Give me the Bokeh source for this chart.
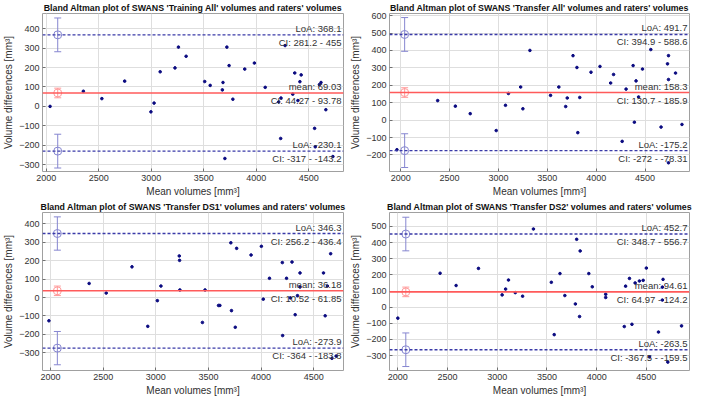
from bokeh.plotting import figure
from bokeh.layouts import gridplot
from bokeh.models import ColumnDataSource, Span, Whisker, FixedTicker, Range1d, TeeHead
from bokeh.core.properties import value
from bokeh.embed import file_html
from bokeh.resources import INLINE

FONT = "Liberation Sans"

titles = [
    "Bland Altman plot of SWANS 'Training All' volumes and raters' volumes",
    "Bland Altman plot of SWANS 'Transfer All' volumes and raters' volumes",
    "Bland Altman plot of SWANS 'Transfer DS1' volumes and raters' volumes",
    "Bland Altman plot of SWANS 'Transfer DS2' volumes and raters' volumes",
]
x_label = "Mean volumes [mm³]"
y_label = "Volume differences [mm³]"

x_ticks = [2000, 2500, 3000, 3500, 4000, 4500]
y_ticks_train_all = [-300, -200, -100, 0, 100, 200, 300, 400]
y_ticks_transfer_all = [-200, -100, 0, 100, 200, 300, 400, 500, 600]
y_ticks_ds1 = [-300, -200, -100, 0, 100, 200, 300, 400]
y_ticks_ds2 = [-300, -200, -100, 0, 100, 200, 300, 400, 500]

# ---- Training All ----
train_all_x = [2037, 2354, 2530, 2747, 2997, 3027, 3085, 3226, 3259, 3332, 3509, 3561,
               3677, 3683, 3720, 3741, 3777, 3701, 3890, 3982, 4085, 4274, 4213, 4235,
               4232, 4347, 4366, 4427, 4415, 4396, 4555, 4601, 4616, 4662, 4561, 4729]
train_all_y = [0, 78, 40, 130, -28, 17, 178, 198, 305, 258, 128, 108,
               85, 123, 305, 210, 37, -268, 192, 223, 98, 313, 23, 43,
               -165, 63, 172, 162, 127, 30, -113, 112, 123, -17, -208, -258]

# ---- Transfer All ----
transfer_all_x = [1961, 2378, 2559, 2711, 2977, 3072, 3102, 3227, 3250, 3322, 3533, 3618,
                  3688, 3704, 3763, 3803, 3812, 3832, 3947, 4039, 4148, 4178, 4266, 4306,
                  4378, 4391, 4408, 4434, 4474, 4559, 4664, 4730, 4740, 4740, 4740, 4812, 4878]
transfer_all_y = [-170, 112, 80, 37, -60, 85, 153, 190, 65, 400, 142, 190,
                  78, 127, 370, 302, -72, 130, 275, 308, 213, 262, -122, 178,
                  313, -12, 225, 133, 293, 405, -40, 323, 370, 233, -245, 270, -25]

# ---- Transfer DS1 ----
ds1_x = [1985, 2367, 2529, 2774, 2924, 3015, 3049, 3223, 3226, 3229, 3443, 3468,
         3596, 3609, 3713, 3719, 3755, 3768, 3905, 4003, 4021, 4080, 4202, 4205,
         4242, 4294, 4278, 4324, 4370, 4370, 4346, 4593, 4609, 4630, 4661, 4673, 4713]
ds1_y = [-126, 76, 24, 166, -156, -17, 62, 225, 201, 41, -135, 41,
         -43, -43, 296, -71, -161, 266, 230, 277, -9, 104, 189, -206,
         104, 192, -2, -93, 133, 57, 10, 133, -99, 62, 237, -329, -317]

# ---- Transfer DS2 ----
ds2_x = [2000, 2425, 2586, 2811, 3049, 3084, 3113, 3181, 3255, 3364, 3544, 3573,
         3631, 3680, 3786, 3799, 3828, 3834, 3921, 3956, 4091, 4091, 4278, 4291,
         4330, 4355, 4387, 4430, 4468, 4500, 4532, 4622, 4661, 4668, 4661, 4716, 4854]
ds2_y = [-68, 210, 134, 240, 76, 112, 168, 90, 68, 484, 154, -170,
         208, 72, 20, 420, -58, 348, 208, 126, 80, 60, -120, 130,
         178, -106, 150, 162, 166, 242, -308, -154, 124, 172, 44, -340, -116]

# ---- statistics (per panel) ----
mean_diff = [69.03, 158.3, 36.18, 94.61]
mean_ci_lo = [44.27, 130.7, 10.52, 64.97]
mean_ci_hi = [93.78, 185.9, 61.85, 124.2]
loa_hi = [368.1, 491.7, 346.3, 452.7]
loa_hi_ci_lo = [281.2, 394.9, 256.2, 348.7]
loa_hi_ci_hi = [455, 588.6, 436.4, 556.7]
loa_lo = [-230.1, -175.2, -273.9, -263.5]
loa_lo_ci_lo = [-317, -272, -364, -367.5]
loa_lo_ci_hi = [-143.2, -78.31, -183.8, -159.5]
errbar_x = [2110, 2040, 2065, 2080]

# axis limits
x_limits = [(1965, 4830), (1885, 4955), (1924, 4783), (1916, 4934)]
y_limits = [(-335, 478), (-295, 612), (-395, 460), (-392, 586)]

xs = [train_all_x, transfer_all_x, ds1_x, ds2_x]
ys = [train_all_y, transfer_all_y, ds1_y, ds2_y]
yticks = [y_ticks_train_all, y_ticks_transfer_all, y_ticks_ds1, y_ticks_ds2]

MEAN_COL = "#ff5a5a"
MEAN_ERR_COL = "#ff9a9a"
LOA_COL = "#3a3aa8"
LOA_ERR_COL = "#8686d0"
PT_COL = "#0a0a80"
TXT_COL = "#333333"


def fmt(v):
    return "%.4g" % v


def make_panel(i, width, height, left_border):
    xr = Range1d(*x_limits[i])
    yr = Range1d(*y_limits[i])
    p = figure(width=width, height=height, x_range=xr, y_range=yr,
               output_backend="svg", toolbar_location=None,
               min_border_left=left_border, min_border_right=4,
               min_border_top=0, min_border_bottom=0)
    p.title.text = titles[i]
    p.title.align = "center"
    p.title.text_font = FONT
    p.title.text_font_size = "8.8px"
    p.title.text_font_style = "bold"
    p.title.text_color = "#111111"
    p.title.standoff = 1
    p.title.offset = 0

    p.outline_line_color = "#a0a0a0"
    p.outline_line_width = 1
    p.background_fill_color = "white"
    p.border_fill_color = "white"

    for ax in (p.xaxis[0], p.yaxis[0]):
        ax.axis_line_color = None
        ax.major_tick_in = 3
        ax.major_tick_out = 0
        ax.minor_tick_in = 0
        ax.minor_tick_out = 0
        ax.major_tick_line_color = "#707070"
        ax.major_label_text_font = FONT
        ax.major_label_text_font_size = "9px"
        ax.major_label_text_color = "#333333"
        ax.axis_label_text_font = FONT
        ax.axis_label_text_font_size = "10px"
        ax.axis_label_text_font_style = "normal"
        ax.axis_label_text_color = "#303030"
        ax.major_label_standoff = 3
        ax.axis_label_standoff = 2
    p.xaxis[0].ticker = FixedTicker(ticks=x_ticks)
    p.yaxis[0].ticker = FixedTicker(ticks=yticks[i])
    p.xaxis[0].axis_label = x_label
    p.yaxis[0].axis_label = y_label

    p.xgrid.ticker = FixedTicker(ticks=x_ticks)
    p.ygrid.ticker = FixedTicker(ticks=yticks[i])
    p.grid.grid_line_color = "#dedede"
    p.grid.grid_line_width = 1

    # horizontal lines
    p.add_layout(Span(location=mean_diff[i], dimension="width",
                      line_color=MEAN_COL, line_width=1.6))
    for loc in (loa_hi[i], loa_lo[i]):
        p.add_layout(Span(location=loc, dimension="width", line_color=LOA_COL,
                          line_width=1.4, line_dash="3 2"))

    # points
    p.scatter(xs[i], ys[i], marker="circle", size=2.6, fill_color=PT_COL,
              line_color=PT_COL)

    # error bars
    loa_src = ColumnDataSource(dict(x=[errbar_x[i], errbar_x[i]],
                                    y=[loa_hi[i], loa_lo[i]],
                                    lo=[loa_hi_ci_lo[i], loa_lo_ci_lo[i]],
                                    hi=[loa_hi_ci_hi[i], loa_lo_ci_hi[i]]))
    mean_src = ColumnDataSource(dict(x=[errbar_x[i]], y=[mean_diff[i]],
                                     lo=[mean_ci_lo[i]], hi=[mean_ci_hi[i]]))
    for src, col in ((loa_src, LOA_ERR_COL), (mean_src, MEAN_ERR_COL)):
        p.add_layout(Whisker(source=src, base="x", upper="hi", lower="lo",
                             dimension="height", line_color=col, line_width=1,
                             upper_head=TeeHead(size=7, line_color=col, line_width=1),
                             lower_head=TeeHead(size=7, line_color=col, line_width=1)))
        p.scatter("x", "y", source=src, marker="circle", size=8, fill_color=None,
                  line_color=col, line_width=1)

    # text labels at right edge
    xr_end = x_limits[i][1]
    above = ColumnDataSource(dict(
        x=[xr_end] * 3,
        y=[loa_hi[i], mean_diff[i], loa_lo[i]],
        t=["LoA: " + fmt(loa_hi[i]), "mean: " + fmt(mean_diff[i]), "LoA: " + fmt(loa_lo[i])]))
    below = ColumnDataSource(dict(
        x=[xr_end] * 3,
        y=[loa_hi[i], mean_diff[i], loa_lo[i]],
        t=["CI: %s - %s" % (fmt(loa_hi_ci_lo[i]), fmt(loa_hi_ci_hi[i])),
           "CI: %s - %s" % (fmt(mean_ci_lo[i]), fmt(mean_ci_hi[i])),
           "CI: %s - %s" % (fmt(loa_lo_ci_lo[i]), fmt(loa_lo_ci_hi[i]))]))
    p.text("x", "y", text="t", source=above, text_align="right",
           text_baseline="bottom", x_offset=-2, y_offset=-1,
           text_font=value(FONT), text_font_size="9.5px", text_color=TXT_COL)
    p.text("x", "y", text="t", source=below, text_align="right",
           text_baseline="top", x_offset=-2, y_offset=2,
           text_font=value(FONT), text_font_size="9.5px", text_color=TXT_COL)
    return p


p1 = make_panel(0, 347, 199, 28)
p2 = make_panel(1, 346, 199, 36)
p3 = make_panel(2, 347, 199, 28)
p4 = make_panel(3, 346, 199, 36)

grid = gridplot([[p1, p2], [p3, p4]], toolbar_location=None)

open("out.html", "w").write(file_html(grid, INLINE))
